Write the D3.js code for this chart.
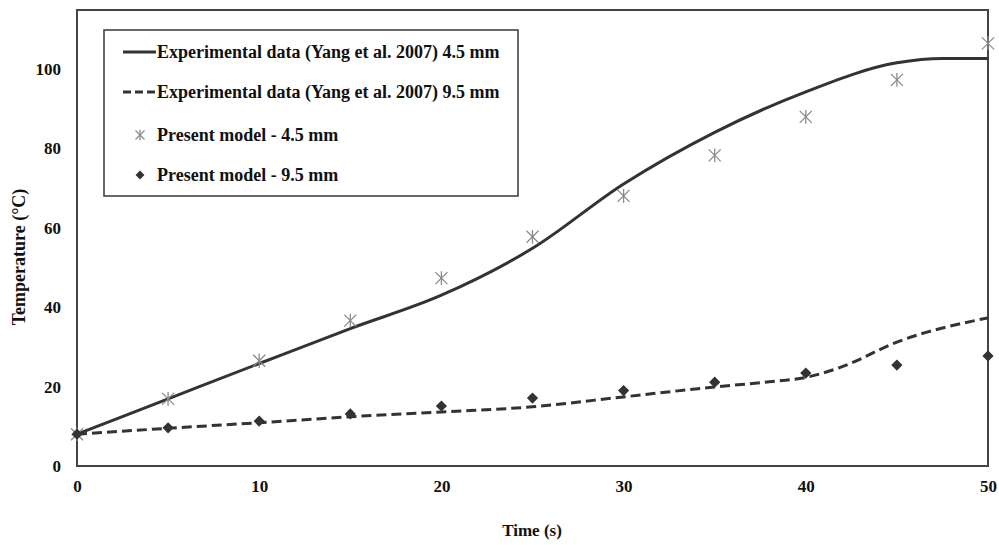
<!DOCTYPE html>
<meta charset="utf-8">
<style>
body { margin: 0; background: #fff; }
text { font-family: "Liberation Serif", "Times New Roman", serif; font-weight: bold; fill: #111; }
.tick text { font-size: 17px; }
.frame { fill: none; stroke: #444; stroke-width: 2px; }
.exp { fill: none; stroke: #333; stroke-width: 3px; }
.star { stroke: #8a8a8a; stroke-width: 1.3px; fill: none; }
.diamond { fill: #333; }
</style>
<svg width="999" height="545"></svg>
<script src="https://d3js.org/d3.v7.min.js"></script>
<script>

// time axis (s)
var modelTime = [0, 5, 10, 15, 20, 25, 30, 35, 40, 45, 50];
var model45 = [8, 16.9, 26.5, 36.6, 47.3, 57.7, 68, 78.2, 87.9, 97.2, 106.4];
var model95 = [8, 9.6, 11.3, 13.1, 15.1, 17.1, 19.0, 21.1, 23.4, 25.4, 27.7];

// experimental curves (Yang et al. 2007)
var expTime45 = [0, 5, 10, 15, 20, 25, 30, 35, 40, 45, 47.5, 50];
var exp45 = [8, 16.9, 25.8, 34.6, 43, 54.8, 71, 84, 94.2, 101.5, 102.6, 102.6];
var expTime95 = [0, 5, 10, 15, 20, 25, 30, 35, 38, 40, 42, 45, 50];
var exp95 = [8, 9.5, 10.9, 12.4, 13.6, 14.9, 17.4, 19.9, 21.2, 22.3, 25, 31.2, 37.3];

var xTicks = [0, 10, 20, 30, 40, 50];
var yTicks = [0, 20, 40, 60, 80, 100];

var legendLabels = [
  "Experimental data (Yang et al. 2007) 4.5 mm",
  "Experimental data (Yang et al. 2007) 9.5 mm",
  "Present model - 4.5 mm",
  "Present model - 9.5 mm"
];

var svg = d3.select("svg");
var pLeft = 77, pRight = 988, pTop = 10, pBottom = 466;

var x = d3.scaleLinear().domain([0, 50]).range([pLeft, pRight]);
var y = d3.scaleLinear().domain([0, 114.8]).range([pBottom, pTop]);

svg.append("rect").attr("width", 999).attr("height", 545).attr("fill", "#fff");

// axes, labels only
svg.append("g")
    .attr("transform", "translate(0," + pBottom + ")")
    .call(d3.axisBottom(x).tickValues(xTicks).tickSize(0).tickPadding(14));
svg.append("g")
    .attr("transform", "translate(" + pLeft + ",0)")
    .call(d3.axisLeft(y).tickValues(yTicks).tickSize(0).tickPadding(16));
svg.selectAll(".domain").remove();

svg.append("rect").attr("class", "frame")
    .attr("x", pLeft).attr("y", pTop)
    .attr("width", pRight - pLeft).attr("height", pBottom - pTop);

svg.append("text")
    .attr("transform", "translate(25,257) rotate(-90)")
    .attr("text-anchor", "middle")
    .style("font-size", "18px")
    .text("Temperature (°C)");

svg.append("text")
    .attr("x", 532).attr("y", 536)
    .attr("text-anchor", "middle")
    .style("font-size", "17px")
    .text("Time (s)");

var line = d3.line().curve(d3.curveMonotoneX)
    .x(function(d) { return x(d[0]); })
    .y(function(d) { return y(d[1]); });

svg.append("path").attr("class", "exp")
    .attr("d", line(d3.zip(expTime45, exp45)));
svg.append("path").attr("class", "exp")
    .attr("stroke-dasharray", "10,5")
    .attr("d", line(d3.zip(expTime95, exp95)));

function star(g, s) {
  g.append("line").attr("x1", -s).attr("y1", -s).attr("x2", s).attr("y2", s);
  g.append("line").attr("x1", -s).attr("y1", s).attr("x2", s).attr("y2", -s);
  g.append("line").attr("x1", 0).attr("y1", -s * 1.15).attr("x2", 0).attr("y2", s * 1.15);
}

var diamond = d3.symbol().type(d3.symbolDiamond2).size(80);

svg.selectAll(".m45").data(d3.zip(modelTime, model45)).enter()
  .append("g").attr("class", "star")
    .attr("transform", function(d) { return "translate(" + x(d[0]) + "," + y(d[1]) + ")"; })
    .each(function() { star(d3.select(this), 6); });

svg.selectAll(".m95").data(d3.zip(modelTime, model95)).enter()
  .append("path").attr("class", "diamond")
    .attr("transform", function(d) { return "translate(" + x(d[0]) + "," + y(d[1]) + ")"; })
    .attr("d", diamond);

// legend
var lg = svg.append("g");
lg.append("rect").attr("x", 104).attr("y", 30).attr("width", 414).attr("height", 166)
    .attr("fill", "#fff").attr("stroke", "#444").attr("stroke-width", 1.6);

var rowY = [52, 92, 135, 175];
legendLabels.forEach(function(t, i) {
  var ry = rowY[i];
  if (i < 2) {
    lg.append("line").attr("class", "exp")
        .attr("x1", 123).attr("x2", 156).attr("y1", ry).attr("y2", ry)
        .attr("stroke-dasharray", i == 1 ? "8,4" : null);
  } else if (i == 2) {
    star(lg.append("g").attr("class", "star").attr("transform", "translate(140," + ry + ")"), 4.5);
  } else {
    lg.append("path").attr("class", "diamond")
        .attr("transform", "translate(140," + ry + ")")
        .attr("d", d3.symbol().type(d3.symbolDiamond2).size(50));
  }
  lg.append("text")
      .attr("x", 157).attr("y", ry).attr("dy", "0.35em")
      .style("font-size", "18px")
      .text(t);
});

</script>
